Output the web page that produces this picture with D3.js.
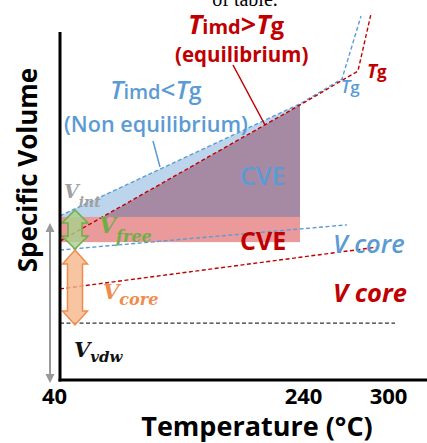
<!DOCTYPE html>
<html>
<head>
<meta charset="utf-8">
<script src="https://cdn.jsdelivr.net/npm/d3@7"></script>
<style>
  body { margin: 0; background: #fff; }
  svg { display: block; }
</style>
</head>
<body>
<div id="chart"></div>
<script>
// temperature ticks and curve data (schematic)
const tempTicks = [40, 240, 300];
const noneqT = [40, 240, 268.6, 281.6];   // Timd < Tg
const noneqV = [45.6, 76.7, 83.6, 101.1];
const eqT = [40, 240, 279.5, 288.4];      // Timd > Tg
const eqV = [38.6, 76.4, 85.8, 101.7];
const coreBlueT = [40, 272];
const coreBlueV = [36.1, 43.1];
const coreRedT = [40, 292.5];
const coreRedV = [25.3, 36.9];
const vdwT = [40, 304.8];
const vdwV = [15.8, 15.8];
const cveBand = [38.3, 45.3];
const cveEnd = 240;
const freeArrow = [36.4, 47.2];
const coreArrow = [15.3, 36.1];
const totalArrow = [-0.8, 43.6];

const width = 427, height = 443;
const blue = "#5b9bd5", red = "#c00000";
const sans = "'Open Sans', 'Noto Sans', sans-serif";
const serif = "'DejaVu Serif', serif";

const x = d3.scaleLinear().domain(tempTicks).range([60, 300, 388]);
const y = d3.scaleLinear().domain([0, 100]).range([380, 20]);

const svg = d3.select("#chart").append("svg")
  .attr("width", width)
  .attr("height", height);

const pts = (ts, vs) => ts.map((t, i) => [t, vs[i]]);
const line = d3.line().x(d => x(d[0])).y(d => y(d[1]));

// where the equilibrium line leaves the red band
const cross = eqT[0] + (cveBand[1] - eqV[0]) / (eqV[1] - eqV[0]) * (eqT[1] - eqT[0]);

// light blue band (non equilibrium CVE)
svg.append("path")
  .attr("d", line([[noneqT[0], noneqV[0]], [noneqT[1], noneqV[1]], [eqT[1], eqV[1]],
    [cross, cveBand[1]], [noneqT[0], cveBand[1]]]) + "Z")
  .attr("fill", "#bdd5ec");

// purple triangle
svg.append("path")
  .attr("d", line([[cross, cveBand[1]], [eqT[1], eqV[1]], [cveEnd, cveBand[1]]]) + "Z")
  .attr("fill", "#a68aa3");

// red CVE band
svg.append("rect")
  .attr("x", x(40))
  .attr("y", y(cveBand[1]))
  .attr("width", x(cveEnd) - x(40))
  .attr("height", y(cveBand[0]) - y(cveBand[1]))
  .attr("fill", "#ea9a9b");

// dashed lines
const dashed = [
  [noneqT, noneqV, blue],
  [eqT, eqV, red],
  [coreBlueT, coreBlueV, blue],
  [coreRedT, coreRedV, red],
  [vdwT, vdwV, "#333"]
];
dashed.forEach(function(d) {
  svg.append("path")
    .attr("d", line(pts(d[0], d[1])))
    .attr("fill", "none")
    .attr("stroke", d[2])
    .attr("stroke-width", 1.4)
    .attr("stroke-dasharray", "4,2.5");
});

// block arrows
function blockArrow(cx, v0, v1, w, shaft, head, fill, stroke) {
  const yt = y(v1), yb = y(v0);
  const p = [[cx, yt], [cx + w / 2, yt + head], [cx + shaft / 2, yt + head],
    [cx + shaft / 2, yb - head], [cx + w / 2, yb - head], [cx, yb],
    [cx - w / 2, yb - head], [cx - shaft / 2, yb - head], [cx - shaft / 2, yt + head],
    [cx - w / 2, yt + head]];
  svg.append("path")
    .attr("d", "M" + p.join("L") + "Z")
    .attr("fill", fill)
    .attr("fill-opacity", 0.8)
    .attr("stroke", stroke)
    .attr("stroke-width", 1.5);
}
blockArrow(x(40) + 15, coreArrow[0], coreArrow[1], 25, 15, 14, "#f6b68c", "#f08c4a");
blockArrow(x(40) + 15, freeArrow[0], freeArrow[1], 26, 14, 13, "#a9d18e", "#70ad47");

// grey total arrow
const gx = x(40) - 10;
svg.append("line")
  .attr("x1", gx).attr("x2", gx)
  .attr("y1", y(totalArrow[1]) + 6).attr("y2", y(totalArrow[0]) - 6)
  .attr("stroke", "#999").attr("stroke-width", 2);
svg.append("path")
  .attr("d", `M${gx},${y(totalArrow[1])}l-4.5,9h9Z M${gx},${y(totalArrow[0])}l-4.5,-9h9Z`)
  .attr("fill", "#999");

// axes
svg.append("line")
  .attr("x1", x(40)).attr("x2", x(40))
  .attr("y1", 32).attr("y2", y(0) + 1.5)
  .attr("stroke", "#000").attr("stroke-width", 3);
svg.append("line")
  .attr("x1", x(40) - 1.5).attr("x2", width)
  .attr("y1", y(0)).attr("y2", y(0))
  .attr("stroke", "#000").attr("stroke-width", 3);

const xAxis = d3.axisBottom(x).tickValues(tempTicks).tickSize(0);
const ax = svg.append("g")
  .attr("transform", "translate(0," + y(0) + ")")
  .call(xAxis);
ax.select(".domain").remove();
ax.selectAll("text")
  .attr("y", 24)
  .attr("dy", 0)
  .attr("dx", (d, i) => i === 0 ? -6 : (i === 1 ? 3 : 0))
  .attr("fill", "#000")
  .style("font-family", sans)
  .style("font-weight", "bold")
  .style("font-size", "22px");

svg.append("text")
  .attr("x", 257).attr("y", 436)
  .attr("text-anchor", "middle")
  .style("font-family", sans).style("font-weight", "bold").style("font-size", "27px")
  .text("Temperature (°C)");

svg.append("text")
  .attr("transform", "translate(37,170) rotate(-90)")
  .attr("text-anchor", "middle")
  .style("font-family", sans).style("font-weight", "bold").style("font-size", "26px")
  .text("Specific Volume");

// clipped caption at the top
svg.append("text")
  .attr("x", 245).attr("y", 6)
  .attr("text-anchor", "middle")
  .style("font-family", "'Liberation Serif', serif").style("font-size", "20px")
  .text("of table.");

// rich text helper
function rich(px, py, color, parts, weight) {
  const t = svg.append("text")
    .attr("x", px).attr("y", py)
    .attr("fill", color)
    .style("font-family", sans)
    .style("font-weight", weight || "bold");
  parts.forEach(function(p) {
    const s = t.append("tspan").text(p.s).style("font-size", p.size + "px");
    if (p.it) s.style("font-style", "italic");
  });
  return t;
}

rich(188, 34, red, [{s: "T", size: 27, it: 1}, {s: "imd", size: 20}, {s: ">", size: 27}, {s: "T", size: 27, it: 1}, {s: "g", size: 24}]);
rich(175, 62, red, [{s: "(equilibrium)", size: 20.5}]);
rich(110, 99, blue, [{s: "T", size: 26, it: 1}, {s: "imd", size: 20}, {s: "<", size: 26}, {s: "T", size: 26, it: 1}, {s: "g", size: 23}], 600);
rich(64, 132, blue, [{s: "(Non equilibrium)", size: 21.6}], 600);
rich(367, 78, red, [{s: "T", size: 19, it: 1}, {s: "g", size: 17}]);
rich(341, 93, blue, [{s: "T", size: 18, it: 1}, {s: "g", size: 17}], 600);

// leader lines
svg.append("line").attr("x1", 233).attr("y1", 65).attr("x2", 265).attr("y2", 125)
  .attr("stroke", red).attr("stroke-width", 1.5);
svg.append("line").attr("x1", 153).attr("y1", 141).attr("x2", 160).attr("y2", 167)
  .attr("stroke", blue).attr("stroke-width", 1.5);

rich(240, 185, blue, [{s: "CVE", size: 25}], 600);
rich(240, 250, red, [{s: "CVE", size: 25}]);
rich(333, 253, blue, [{s: "V core", size: 25.5, it: 1}], 600);
rich(333, 302, red, [{s: "V core", size: 25.5, it: 1}]);

// volume labels
function vLabel(px, py, color, sub, big, small, shift) {
  const t = svg.append("text")
    .attr("x", px).attr("y", py)
    .attr("fill", color)
    .style("font-family", serif)
    .style("font-style", "italic")
    .style("font-weight", "bold");
  t.append("tspan").text("V").style("font-size", big + "px");
  t.append("tspan").text(sub).style("font-size", small + "px").attr("dy", shift);
}
vLabel(64, 198, "#a0a0a0", "int", 19, 14, 9);
vLabel(99, 233, "#70ad47", "free", 22, 16, 9);
vLabel(103, 299, "#f08c4a", "core", 21, 16, 6);
vLabel(74, 357, "#111", "vdw", 21, 15, 5);
</script>
</body>
</html>
